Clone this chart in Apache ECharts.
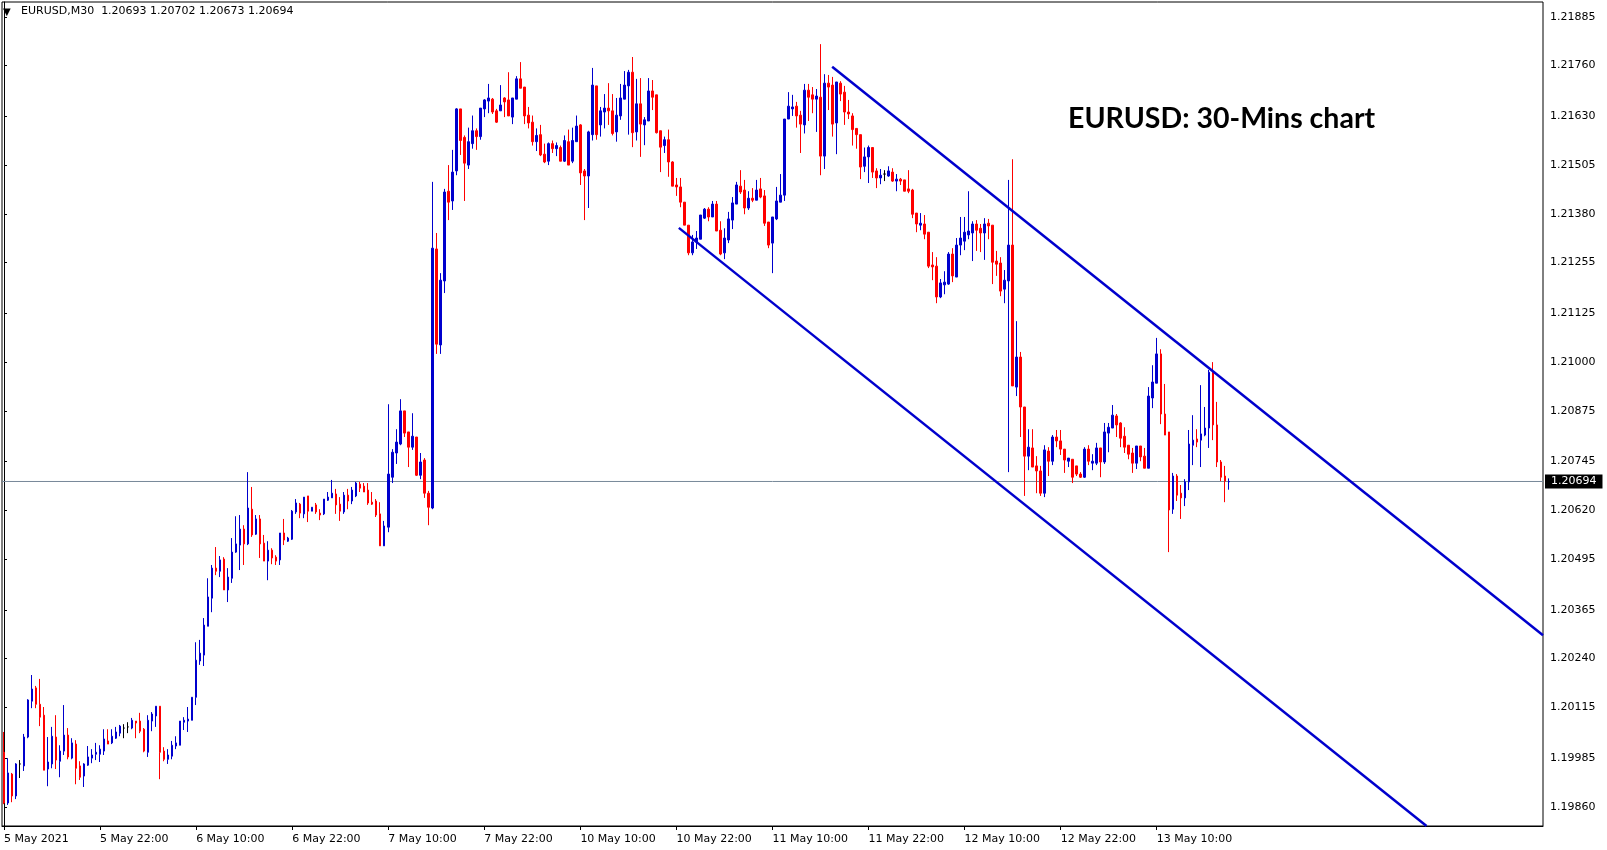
<!DOCTYPE html>
<html><head><meta charset="utf-8">
<script src="https://cdn.jsdelivr.net/npm/echarts@6/dist/echarts.min.js"></script>
<style>html,body{margin:0;padding:0;background:#fff}#c{width:1607px;height:850px}</style>
</head><body><div id="c"></div>
<script>
// ---- data (EURUSD M30, from 5 May 2021 10:00) ----
const openPrices = [
1.20000,1.19870,1.19944,1.19888,1.19970,1.19965,1.20039,1.20131,1.20165,1.20123,
1.20095,1.19957,1.19970,1.20039,1.19977,1.20003,1.20044,1.19985,1.20021,1.19965,
1.19939,1.19967,1.19985,1.19995,1.19995,1.20003,1.20029,1.20024,1.20036,1.20049,
1.20062,1.20065,1.20062,1.20080,1.20080,1.20059,1.20000,1.20080,1.20093,1.20118,
1.20003,1.19982,1.19990,1.20016,1.20018,1.20077,1.20080,1.20082,1.20141,1.20234,
1.20249,1.20323,1.20395,1.20472,1.20464,1.20495,1.20416,1.20446,1.20513,1.20531,
1.20572,1.20534,1.20623,1.20559,1.20598,1.20536,1.20490,1.20518,1.20500,1.20493,
1.20562,1.20541,1.20546,1.20616,1.20636,1.20611,1.20657,1.20618,1.20634,1.20613,
1.20611,1.20646,1.20652,1.20662,1.20636,1.20616,1.20659,1.20644,1.20657,1.20687,
1.20682,1.20672,1.20641,1.20644,1.20611,1.20529,1.20577,1.20705,1.20767,1.20790,
1.20875,1.20821,1.20782,1.20808,1.20710,1.20749,1.20664,1.20626,1.21290,1.21044,
1.21208,1.21438,1.21413,1.21490,1.21649,1.21576,1.21505,1.21560,1.21593,1.21578,
1.21649,1.21669,1.21674,1.21644,1.21644,1.21677,1.21672,1.21628,1.21674,1.21726,
1.21705,1.21633,1.21615,1.21565,1.21583,1.21533,1.21515,1.21560,1.21547,1.21550,
1.21515,1.21565,1.21515,1.21565,1.21608,1.21490,1.21477,1.21583,1.21708,1.21608,
1.21641,1.21651,1.21644,1.21590,1.21631,1.21674,1.21708,1.21743,1.21590,1.21662,
1.21608,1.21618,1.21695,1.21685,1.21593,1.21555,1.21570,1.21513,1.21454,1.21449,
1.21410,1.21351,1.21280,1.21308,1.21315,1.21369,1.21392,1.21372,1.21405,1.21338,
1.21280,1.21313,1.21364,1.21405,1.21451,1.21441,1.21395,1.21420,1.21415,1.21444,
1.21426,1.21359,1.21305,1.21367,1.21410,1.21428,1.21623,1.21649,1.21656,1.21633,
1.21608,1.21697,1.21685,1.21674,1.21679,1.21528,1.21715,1.21710,1.21613,1.21715,
1.21692,1.21641,1.21631,1.21599,1.21583,1.21502,1.21526,1.21550,1.21490,1.21472,
1.21482,1.21477,1.21487,1.21464,1.21469,1.21467,1.21444,1.21441,1.21382,1.21351,
1.21354,1.21333,1.21249,1.21246,1.21167,1.21198,1.21200,1.21277,1.21218,1.21300,
1.21310,1.21326,1.21331,1.21354,1.21343,1.21331,1.21356,1.21351,1.21259,1.21254,
1.21187,1.21208,1.21300,1.20936,1.21013,1.20885,1.20759,1.20780,1.20734,1.20721,
1.20664,1.20772,1.20746,1.20808,1.20798,1.20777,1.20746,1.20751,1.20734,1.20713,
1.20705,1.20777,1.20741,1.20741,1.20780,1.20744,1.20818,1.20831,1.20862,1.20844,
1.20810,1.20787,1.20767,1.20741,1.20785,1.20759,1.20728,1.20908,1.20946,1.21021,
1.20867,1.20821,1.20623,1.20708,1.20664,1.20652,1.20693,1.20787,1.20803,1.20800,
1.20813,1.20831,1.20974,1.20839,1.20744,1.20708,1.20693];
const highPrices = [
1.20052,1.19985,1.19947,1.19972,1.19980,1.20047,1.20136,1.20198,1.20170,1.20188,
1.20116,1.20039,1.20065,1.20095,1.20018,1.20121,1.20062,1.20036,1.20031,1.19977,
1.19972,1.20016,1.20008,1.20024,1.20018,1.20059,1.20059,1.20059,1.20065,1.20070,
1.20072,1.20077,1.20088,1.20080,1.20101,1.20062,1.20095,1.20103,1.20118,1.20118,
1.20013,1.20008,1.20029,1.20041,1.20080,1.20090,1.20116,1.20141,1.20282,1.20288,
1.20344,1.20446,1.20480,1.20526,1.20503,1.20500,1.20472,1.20549,1.20605,1.20608,
1.20582,1.20718,1.20680,1.20608,1.20608,1.20557,1.20541,1.20523,1.20505,1.20562,
1.20598,1.20552,1.20621,1.20649,1.20639,1.20654,1.20657,1.20628,1.20639,1.20623,
1.20649,1.20667,1.20698,1.20675,1.20654,1.20667,1.20675,1.20680,1.20693,1.20693,
1.20690,1.20690,1.20667,1.20649,1.20641,1.20593,1.20892,1.20777,1.20828,1.20905,
1.20875,1.20821,1.20869,1.20808,1.20767,1.20754,1.20670,1.21462,1.21331,1.21228,
1.21444,1.21505,1.21544,1.21651,1.21649,1.21581,1.21601,1.21632,1.21599,1.21651,
1.21674,1.21713,1.21677,1.21649,1.21710,1.21679,1.21743,1.21677,1.21733,1.21769,
1.21705,1.21654,1.21632,1.21599,1.21608,1.21560,1.21563,1.21568,1.21563,1.21555,
1.21581,1.21596,1.21601,1.21632,1.21610,1.21495,1.21593,1.21754,1.21708,1.21654,
1.21687,1.21715,1.21687,1.21677,1.21713,1.21746,1.21749,1.21782,1.21726,1.21728,
1.21628,1.21728,1.21723,1.21685,1.21593,1.21578,1.21596,1.21515,1.21472,1.21472,
1.21410,1.21351,1.21326,1.21336,1.21377,1.21395,1.21397,1.21413,1.21413,1.21361,
1.21343,1.21385,1.21423,1.21462,1.21492,1.21467,1.21438,1.21446,1.21467,1.21472,
1.21441,1.21359,1.21372,1.21449,1.21482,1.21623,1.21692,1.21685,1.21667,1.21644,
1.21713,1.21713,1.21705,1.21700,1.21815,1.21738,1.21736,1.21731,1.21718,1.21720,
1.21708,1.21672,1.21638,1.21599,1.21583,1.21550,1.21555,1.21550,1.21497,1.21495,
1.21492,1.21502,1.21497,1.21482,1.21472,1.21467,1.21492,1.21444,1.21382,1.21382,
1.21377,1.21333,1.21282,1.21269,1.21213,1.21233,1.21282,1.21292,1.21318,1.21372,
1.21372,1.21438,1.21361,1.21364,1.21354,1.21369,1.21367,1.21351,1.21285,1.21269,
1.21236,1.21467,1.21520,1.21105,1.21026,1.20885,1.20828,1.20828,1.20759,1.20734,
1.20787,1.20782,1.20813,1.20826,1.20826,1.20777,1.20754,1.20751,1.20734,1.20718,
1.20782,1.20787,1.20764,1.20793,1.20780,1.20844,1.20844,1.20890,1.20867,1.20846,
1.20833,1.20787,1.20780,1.20785,1.20785,1.20780,1.20936,1.20992,1.21062,1.21033,
1.20944,1.20821,1.20716,1.20713,1.20685,1.20700,1.20826,1.20864,1.20828,1.20941,
1.20885,1.20980,1.21000,1.20898,1.20749,1.20734,1.20702];
const lowPrices = [
1.19867,1.19865,1.19872,1.19880,1.19934,1.19952,1.20036,1.20113,1.20113,1.20067,
1.19954,1.19913,1.19959,1.19957,1.19936,1.19993,1.19982,1.19982,1.19918,1.19929,
1.19911,1.19965,1.19972,1.19980,1.19975,1.19993,1.20021,1.20021,1.20034,1.20041,
1.20036,1.20049,1.20059,1.20036,1.20049,1.20000,1.19988,1.20054,1.20065,1.19931,
1.19977,1.19970,1.19982,1.20008,1.20018,1.20057,1.20052,1.20082,1.20121,1.20224,
1.20221,1.20323,1.20359,1.20454,1.20449,1.20416,1.20385,1.20434,1.20511,1.20467,
1.20480,1.20531,1.20552,1.20557,1.20498,1.20490,1.20441,1.20482,1.20480,1.20480,
1.20531,1.20539,1.20544,1.20611,1.20600,1.20600,1.20590,1.20618,1.20611,1.20595,
1.20608,1.20644,1.20652,1.20611,1.20593,1.20611,1.20623,1.20636,1.20654,1.20667,
1.20667,1.20634,1.20634,1.20603,1.20529,1.20529,1.20564,1.20690,1.20739,1.20787,
1.20808,1.20731,1.20775,1.20708,1.20700,1.20652,1.20582,1.20623,1.21021,1.21021,
1.21177,1.21364,1.21390,1.21479,1.21531,1.21413,1.21495,1.21547,1.21544,1.21570,
1.21628,1.21638,1.21636,1.21613,1.21644,1.21628,1.21631,1.21610,1.21674,1.21702,
1.21610,1.21599,1.21555,1.21541,1.21528,1.21510,1.21505,1.21536,1.21528,1.21515,
1.21513,1.21505,1.21510,1.21565,1.21454,1.21364,1.21395,1.21568,1.21570,1.21578,
1.21599,1.21608,1.21581,1.21565,1.21621,1.21674,1.21583,1.21551,1.21568,1.21526,
1.21556,1.21618,1.21646,1.21586,1.21487,1.21536,1.21475,1.21451,1.21426,1.21397,
1.21351,1.21274,1.21274,1.21290,1.21315,1.21367,1.21361,1.21372,1.21336,1.21274,
1.21264,1.21305,1.21341,1.21405,1.21431,1.21379,1.21390,1.21410,1.21415,1.21420,
1.21349,1.21292,1.21228,1.21364,1.21410,1.21413,1.21623,1.21631,1.21601,1.21536,
1.21586,1.21618,1.21638,1.21590,1.21479,1.21495,1.21646,1.21578,1.21533,1.21669,
1.21608,1.21623,1.21555,1.21547,1.21469,1.21487,1.21459,1.21472,1.21446,1.21456,
1.21464,1.21475,1.21462,1.21438,1.21454,1.21438,1.21433,1.21369,1.21333,1.21338,
1.21315,1.21241,1.21210,1.21151,1.21164,1.21174,1.21198,1.21205,1.21218,1.21274,
1.21287,1.21315,1.21259,1.21285,1.21282,1.21262,1.21315,1.21200,1.21221,1.21169,
1.21151,1.20718,1.20939,1.20913,1.20808,1.20657,1.20723,1.20731,1.20664,1.20657,
1.20654,1.20708,1.20736,1.20782,1.20762,1.20716,1.20731,1.20690,1.20708,1.20703,
1.20703,1.20736,1.20723,1.20736,1.20705,1.20739,1.20769,1.20831,1.20808,1.20782,
1.20767,1.20751,1.20716,1.20726,1.20746,1.20728,1.20728,1.20882,1.20946,1.20841,
1.20813,1.20513,1.20611,1.20644,1.20598,1.20631,1.20672,1.20736,1.20782,1.20731,
1.20810,1.20780,1.20800,1.20731,1.20695,1.20641,1.20673];
const closePrices = [
1.19870,1.19947,1.19888,1.19970,1.19970,1.20039,1.20134,1.20162,1.20123,1.20090,
1.19954,1.19975,1.20041,1.19980,1.20003,1.20044,1.19988,1.20024,1.19959,1.19936,
1.19970,1.19988,1.19993,1.20000,1.20008,1.20034,1.20021,1.20041,1.20052,1.20067,
1.20062,1.20065,1.20082,1.20075,1.20054,1.20003,1.20082,1.20098,1.20118,1.20000,
1.19982,1.19993,1.20018,1.20024,1.20080,1.20082,1.20085,1.20141,1.20236,1.20254,
1.20326,1.20398,1.20472,1.20464,1.20493,1.20416,1.20449,1.20513,1.20534,1.20572,
1.20534,1.20626,1.20557,1.20598,1.20534,1.20490,1.20518,1.20498,1.20490,1.20562,
1.20544,1.20549,1.20618,1.20639,1.20613,1.20654,1.20618,1.20628,1.20616,1.20608,
1.20649,1.20654,1.20664,1.20634,1.20618,1.20659,1.20644,1.20672,1.20690,1.20677,
1.20667,1.20639,1.20636,1.20608,1.20529,1.20580,1.20713,1.20769,1.20795,1.20875,
1.20818,1.20782,1.20810,1.20710,1.20744,1.20664,1.20628,1.21292,1.21046,1.21210,
1.21436,1.21410,1.21487,1.21649,1.21568,1.21510,1.21565,1.21593,1.21578,1.21651,
1.21672,1.21677,1.21641,1.21615,1.21659,1.21667,1.21631,1.21677,1.21726,1.21702,
1.21631,1.21613,1.21565,1.21581,1.21531,1.21513,1.21560,1.21547,1.21555,1.21515,
1.21568,1.21505,1.21568,1.21605,1.21485,1.21477,1.21590,1.21710,1.21583,1.21644,
1.21651,1.21644,1.21586,1.21633,1.21677,1.21710,1.21743,1.21588,1.21662,1.21610,
1.21621,1.21695,1.21679,1.21588,1.21551,1.21570,1.21513,1.21451,1.21449,1.21410,
1.21351,1.21280,1.21308,1.21318,1.21377,1.21392,1.21372,1.21405,1.21336,1.21277,
1.21318,1.21367,1.21408,1.21454,1.21436,1.21395,1.21420,1.21415,1.21441,1.21423,
1.21356,1.21300,1.21372,1.21413,1.21428,1.21623,1.21656,1.21654,1.21631,1.21610,
1.21697,1.21679,1.21674,1.21682,1.21528,1.21715,1.21705,1.21610,1.21718,1.21687,
1.21641,1.21636,1.21596,1.21583,1.21500,1.21526,1.21550,1.21487,1.21472,1.21479,
1.21482,1.21490,1.21464,1.21469,1.21464,1.21438,1.21438,1.21379,1.21354,1.21356,
1.21328,1.21246,1.21244,1.21167,1.21203,1.21205,1.21277,1.21221,1.21300,1.21318,
1.21333,1.21336,1.21354,1.21338,1.21331,1.21354,1.21349,1.21256,1.21251,1.21182,
1.21210,1.21300,1.20939,1.21013,1.20885,1.20759,1.20782,1.20731,1.20721,1.20664,
1.20775,1.20746,1.20808,1.20798,1.20777,1.20749,1.20754,1.20705,1.20713,1.20705,
1.20777,1.20746,1.20746,1.20780,1.20744,1.20821,1.20833,1.20864,1.20839,1.20805,
1.20782,1.20764,1.20741,1.20785,1.20757,1.20728,1.20913,1.20949,1.21021,1.20867,
1.20813,1.20621,1.20708,1.20659,1.20652,1.20693,1.20790,1.20800,1.20795,1.20816,
1.20831,1.20974,1.20839,1.20744,1.20705,1.20695,1.20694];

const xTickLabels = ['5 May 2021','5 May 22:00','6 May 10:00','6 May 22:00','7 May 10:00','7 May 22:00',
  '10 May 10:00','10 May 22:00','11 May 10:00','11 May 22:00','12 May 10:00','12 May 22:00','13 May 10:00'];
const yTickLabels = ['1.19860','1.19985','1.20115','1.20240','1.20365','1.20495','1.20620','1.20745',
  '1.20875','1.21000','1.21125','1.21255','1.21380','1.21505','1.21630','1.21760','1.21885'];
const lastPrice = 1.20694;
const headerText = 'EURUSD,M30  1.20693 1.20702 1.20673 1.20694';
const titleText = 'EURUSD: 30-Mins chart';
// channel lines: [bar position, price]
const channelUpper = [[206.9, 1.21757], [384.5, 1.20300]];
const channelLower = [[168.6, 1.21344], [355.4, 1.19811]];
const slotCount = 385;      // visible bar slots incl. empty right shift
const barsPerLabel = 24;
const yMin = 1.19811, yMax = 1.21923;

// ---- build ----
function buildTimes(n) {
  const out = [];
  let t = Date.UTC(2021, 4, 5, 10, 0);
  while (out.length < n) {
    const d = new Date(t);
    const wd = d.getUTCDay();
    if (wd !== 0 && wd !== 6) {
      const p = v => String(v).padStart(2, '0');
      out.push(d.getUTCFullYear() + '.' + p(d.getUTCMonth() + 1) + '.' + p(d.getUTCDate()) + ' ' + p(d.getUTCHours()) + ':' + p(d.getUTCMinutes()));
    }
    t += 1800000;
  }
  return out;
}
const categories = buildTimes(slotCount);
const candles = openPrices.map((o, i) => [o, closePrices[i], lowPrices[i], highPrices[i]]);
const yTickValues = yTickLabels.map(Number);
const showTick = idx => idx % barsPerLabel === 0 && idx / barsPerLabel < xTickLabels.length;
const bidLine = [[-0.5, lastPrice], [slotCount - 0.5, lastPrice]];

const FONT = 'DejaVu Sans';
const chart = echarts.init(document.getElementById('c'), null, {renderer: 'canvas'});
chart.setOption({
  animation: false,
  backgroundColor: '#fff',
  grid: {left: 2, right: 64, top: 2, bottom: 24, show: true, borderColor: '#000', borderWidth: 1, backgroundColor: 'transparent'},
  xAxis: [{
    type: 'category', data: categories, boundaryGap: true,
    axisLine: {show: true, lineStyle: {color: '#000', width: 1}},
    axisTick: {show: true, interval: showTick, alignWithLabel: true, length: 4, lineStyle: {color: '#000'}},
    axisLabel: {interval: showTick, align: 'left', margin: 8, color: '#000', fontFamily: FONT, fontSize: 11,
      formatter: (v, idx) => xTickLabels[Math.round(idx / barsPerLabel)] || ''},
    splitLine: {show: false}
  }, {
    type: 'value', min: -0.5, max: slotCount - 0.5, show: false
  }],
  yAxis: {
    type: 'value', position: 'right', min: yMin, max: yMax, scale: true,
    axisLine: {show: true, lineStyle: {color: '#000', width: 1}},
    axisTick: {show: true, length: 3, customValues: yTickValues, lineStyle: {color: '#000'}},
    axisLabel: {customValues: yTickValues, margin: 7, color: '#000', fontFamily: FONT, fontSize: 11,
      formatter: v => v.toFixed(5)},
    splitLine: {show: false}
  },
  graphic: [
    {type: 'text', x: 3, y: 7, style: {text: '▼', font: '10px "DejaVu Sans"', fill: '#000'}},
    {type: 'text', x: 21, y: 6, style: {text: headerText, font: '11px "DejaVu Sans"', fill: '#000'}},
    {type: 'text', x: 1068, y: 119, style: {text: titleText, font: 'bold 28.5px Lato', fill: '#000', verticalAlign: 'middle'}, z: 10}
  ],
  series: [{
    type: 'line', xAxisIndex: 1, data: bidLine, symbol: 'none', silent: true, z: 1,
    lineStyle: {color: '#778899', width: 1},
    endLabel: {show: true, distance: 2, formatter: () => lastPrice.toFixed(5), color: '#fff',
      backgroundColor: '#000', padding: [2, 6, 1, 6], fontFamily: FONT, fontSize: 11}
  }, {
    type: 'candlestick', data: candles, barWidth: 2, z: 2,
    itemStyle: {color: '#0000CD', color0: '#FF0000', borderColor: '#0000CD', borderColor0: '#FF0000', borderColorDoji: '#000', borderWidth: 1}
  }, {
    type: 'line', xAxisIndex: 1, data: channelUpper, symbol: 'none', silent: true, z: 5,
    lineStyle: {color: '#0000CD', width: 2.5}
  }, {
    type: 'line', xAxisIndex: 1, data: channelLower, symbol: 'none', silent: true, z: 5,
    lineStyle: {color: '#0000CD', width: 2.5}
  }]
});
</script>
</body></html>
